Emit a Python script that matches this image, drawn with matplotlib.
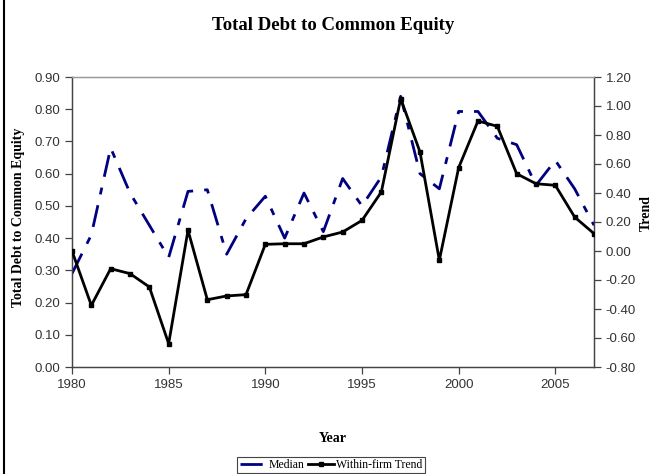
import matplotlib
matplotlib.use("Agg")
import matplotlib.pyplot as plt
from matplotlib.lines import Line2D

# ── Data ─────────────────────────────────────────────────────────────────────
years = list(range(1980, 2008))
median = [0.29, 0.41, 0.68, 0.54, 0.44, 0.34, 0.545, 0.55, 0.35, 0.46,
          0.53, 0.40, 0.54, 0.42, 0.585, 0.50, 0.59, 0.84, 0.60, 0.553,
          0.793, 0.793, 0.71, 0.69, 0.564, 0.641, 0.553, 0.44]
trend = [0.00, -0.375, -0.122, -0.156, -0.248, -0.639, 0.143, -0.336, -0.31, -0.301,
         0.046, 0.05, 0.05, 0.097, 0.131, 0.211, 0.407, 1.051, 0.683, -0.064,
         0.575, 0.897, 0.86, 0.533, 0.464, 0.453, 0.234, 0.12]
xticks = [1980, 1985, 1990, 1995, 2000, 2005]
left_ticks = [0.0, 0.1, 0.2, 0.3, 0.4, 0.5, 0.6, 0.7, 0.8, 0.9]
right_ticks = [-0.8, -0.6, -0.4, -0.2, 0.0, 0.2, 0.4, 0.6, 0.8, 1.0, 1.2]

SERIF = ["Liberation Serif", "DejaVu Serif"]
TICKFONT = ["Liberation Sans Narrow", "Liberation Sans", "DejaVu Sans"]
NAVY = "#000080"

W, H = 655, 474
fig = plt.figure(figsize=(W / 100, H / 100), dpi=100)

def px(x, y):
    # pixel position (from top-left) -> figure fraction
    return x / W, 1 - y / H

# axes box in pixels: left 72, right 594, top 77, bottom 367
ax = fig.add_axes([72 / W, 1 - 367 / H, (594 - 72) / W, (367 - 77) / H])
ax2 = ax.twinx()

ax.plot(years, median, color=NAVY, lw=2, dashes=(8, 4, 2.5, 4), zorder=3)
ax2.plot(years, trend, color="black", lw=2, marker="s", ms=3.5, zorder=4)

ax.set_xlim(1980, 2007)
ax.set_ylim(0, 0.9)
ax2.set_ylim(-0.8, 1.2)
ax.set_xticks(xticks)
ax.set_yticks(left_ticks)
ax2.set_yticks(right_ticks)
ax.set_yticklabels([f"{v:.2f}" for v in left_ticks])
ax2.set_yticklabels([f"{v:.2f}" for v in right_ticks])

for a in (ax, ax2):
    a.set_zorder(2 if a is ax2 else 1)
    a.patch.set_visible(False)
    for s in a.spines.values():
        s.set_color("#444444")
        s.set_linewidth(0.9)
    a.spines["top"].set_color("#999999")
    a.tick_params(direction="out", length=5, width=0.9, color="#444444",
                  labelsize=9.5, labelcolor="#333333")
    for lab in a.get_xticklabels() + a.get_yticklabels():
        lab.set_family(TICKFONT)

lab_kw = dict(family=SERIF, fontsize=10, fontweight="bold", ha="center", va="center")
fig.text(*px(333, 438), "Year", **lab_kw)
fig.text(*px(19, 217), "Total Debt to Common Equity", rotation=90, **lab_kw)
fig.text(*px(646, 213), "Trend", rotation=90, **lab_kw)
fig.text(*px(333, 25), "Total Debt to Common Equity", family=SERIF,
         fontsize=13.5, fontweight="bold", ha="center", va="center")

handles = [Line2D([], [], color=NAVY, lw=2, dashes=(8, 4, 2.5, 4)),
           Line2D([], [], color="black", lw=2, marker="s", ms=3.5)]
leg = fig.legend(handles, ["Median", "Within-firm Trend"], loc="center",
                 bbox_to_anchor=px(331, 465), ncol=2, fancybox=False,
                 framealpha=1, edgecolor="#444444", handlelength=2.2,
                 handletextpad=0.2, columnspacing=0.3, borderpad=0.2,
                 prop={"family": SERIF, "size": 8.5})
leg.get_frame().set_linewidth(0.8)

# thin frame line down the left edge of the picture
fig.add_artist(Line2D([4 / W, 4 / W], [0, 1], color="black", lw=1.5,
                      transform=fig.transFigure))

fig.savefig("out.png", dpi=100)
